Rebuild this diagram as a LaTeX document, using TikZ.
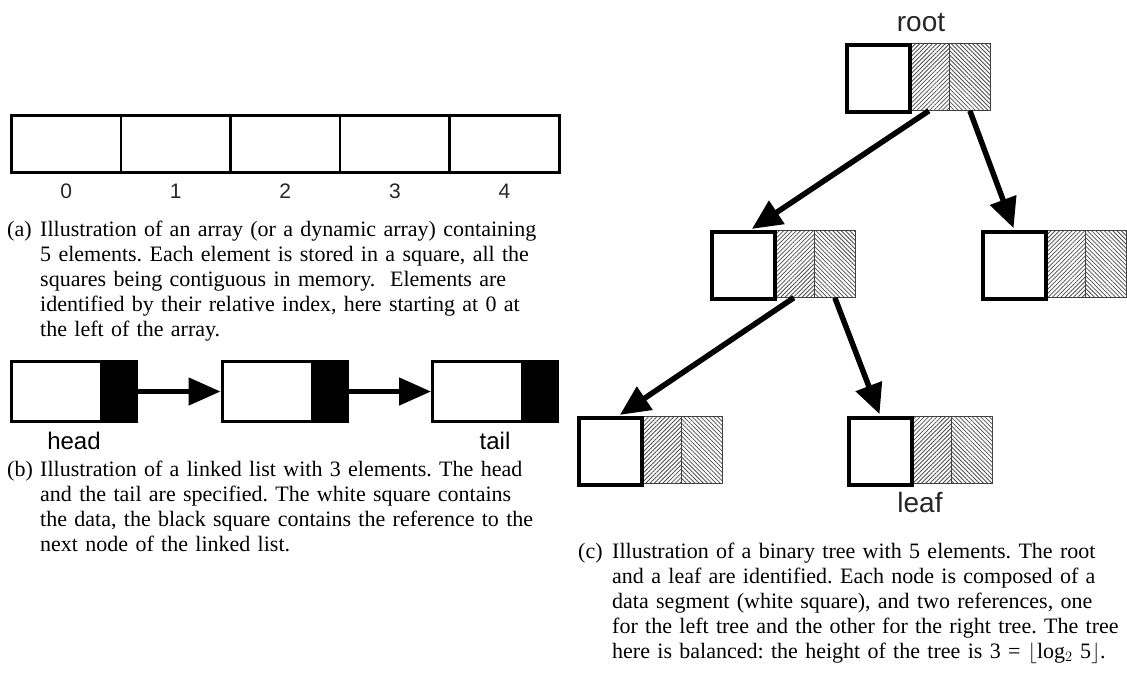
\documentclass[tikz,border=0pt]{standalone}
\usepackage{fontspec}
\setmainfont{Liberation Serif}
\newfontfamily\labfont{Liberation Sans}
\usetikzlibrary{arrows.meta,patterns.meta,calc}
\newcommand\mytreenode[3]{%
  \node[hatchbox, pattern={Lines[angle=45,distance=3pt,line width=0.8pt]}] (#1-l) at ({#2+63},#3) {};
  \node[hatchbox, pattern={Lines[angle=-45,distance=3pt,line width=0.8pt]}] (#1-r) at ({#2+104},#3) {};
  \node[whitebox] (#1-d) at (#2,#3) {};
}
\newcommand\mycapline[2]{\hbox to #1{#2}}
\newcommand\mycaplast[1]{\hbox{#1}}
\newcommand\mycapfont{\fontsize{22}{25}\selectfont\frenchspacing}
\begin{document}
\begin{tikzpicture}[x=1pt,y=-1pt,
  cell/.style={draw, line width=2.6pt, minimum width=109.6pt, minimum height=57pt, inner sep=0pt, anchor=north west},
  digit/.style={font=\labfont\fontsize{21}{21}\selectfont, text=black!85, inner sep=0pt, anchor=base},
  lbox/.style={draw, line width=3pt, minimum width=125pt, minimum height=60pt, inner sep=0pt, anchor=north west},
  lblack/.style={fill=black, draw, line width=3pt, minimum width=35pt, minimum height=60pt, inner sep=0pt, anchor=north east},
  larrow/.style={line width=5pt, -{Triangle[length=32pt,width=27pt]}},
  lab/.style={font=\labfont\fontsize{24}{24}\selectfont, inner sep=0pt, anchor=base},
  tlab/.style={font=\labfont\fontsize{28}{28}\selectfont, text=black!85, inner sep=0pt, anchor=base},
  hatchbox/.style={draw=black!75, line width=0.7pt, minimum width=41pt, minimum height=67pt, inner sep=0pt, anchor=north west, pattern color=black!70},
  whitebox/.style={draw, fill=white, line width=3.5pt, minimum width=63pt, minimum height=67pt, inner sep=0pt, anchor=north west},
  tarrow/.style={line width=5.5pt, -{Triangle[length=30pt,width=27pt]}, shorten >=2pt},
  caplab/.style={anchor=base west, inner sep=0pt, font=\mycapfont},
  captext/.style={anchor=base west, inner sep=0pt, font=\mycapfont},
]
\useasboundingbox (0,0) rectangle (1127,675);

% (a) array
\foreach \i in {0,...,4} {
  \node[cell] (c\i) at ({10+109.6*\i},114) {};
  \node[digit] (d\i) at ($(c\i.south)+(0,25)$) {\i};
}
\node[caplab] (capa-l) at (7,236) {(a)};
\node[captext, text width=516pt] (capa) at (40,236) {%
\mycapline{516pt}{Illustration of an array (or a dynamic array) containing}
\mycapline{516pt}{5 elements. Each element is stored in a square, all the}
\mycapline{516pt}{squares being contiguous in memory.\ \ Elements are}
\mycapline{516pt}{identified by their relative index, here starting at 0 at}
\mycaplast{the left of the array.}};

% (b) linked list
\node[lbox] (l1) at (10,360) {};
\node[lbox] (l2) at (220.5,360) {};
\node[lbox] (l3) at (431,360) {};
\node[lblack] (l1b) at (l1.north east) {};
\node[lblack] (l2b) at (l2.north east) {};
\node[lblack] (l3b) at (l3.north east) {};
\draw[larrow] (l1.east) -- (l2.west);
\draw[larrow] (l2.east) -- (l3.west);
\node[lab] (head) at ($(l1.south)+(0,26)$) {head};
\node[lab] (tail) at ($(l3.south)+(0,26)$) {tail};
\node[caplab] (capb-l) at (7,476) {(b)};
\node[captext, text width=516pt] (capb) at (40,476) {%
\mycapline{516pt}{Illustration of a linked list with 3 elements. The head}
\mycapline{516pt}{and the tail are specified. The white square contains}
\mycapline{516pt}{the data, the black square contains the reference to the}
\mycaplast{next node of the linked list.}};

% (c) binary tree
\mytreenode{root}{845}{43}
\mytreenode{ml}{710}{230}
\mytreenode{mr}{981}{230}
\mytreenode{bl}{577}{416}
\mytreenode{br}{847}{416}
\draw[tarrow] (root-l.south) -- ([xshift=7pt]ml-d.north);
\draw[tarrow] (root-r.south) -- (mr-d.north);
\draw[tarrow] (ml-l.south) -- ([xshift=8pt]bl-d.north);
\draw[tarrow] (ml-r.south) -- (br-d.north);
\node[tlab] (rootlab) at (921,31) {root};
\node[tlab] (leaflab) at (920,512) {leaf};
\node[caplab] (capc-l) at (578,558) {(c)};
\node[captext, text width=506pt] (capc) at (612,558) {%
\mycapline{506pt}{Illustration of a binary tree with 5 elements. The root}
\mycapline{506pt}{and a leaf are identified. Each node is composed of a}
\mycapline{506pt}{data segment (white square), and two references, one}
\mycapline{506pt}{for the left tree and the other for the right tree. The tree}
\mycapline{506pt}{here is balanced: the height of the tree is 3 = $\lfloor$log$_2$ 5$\rfloor$.}};
\end{tikzpicture}
\end{document}
